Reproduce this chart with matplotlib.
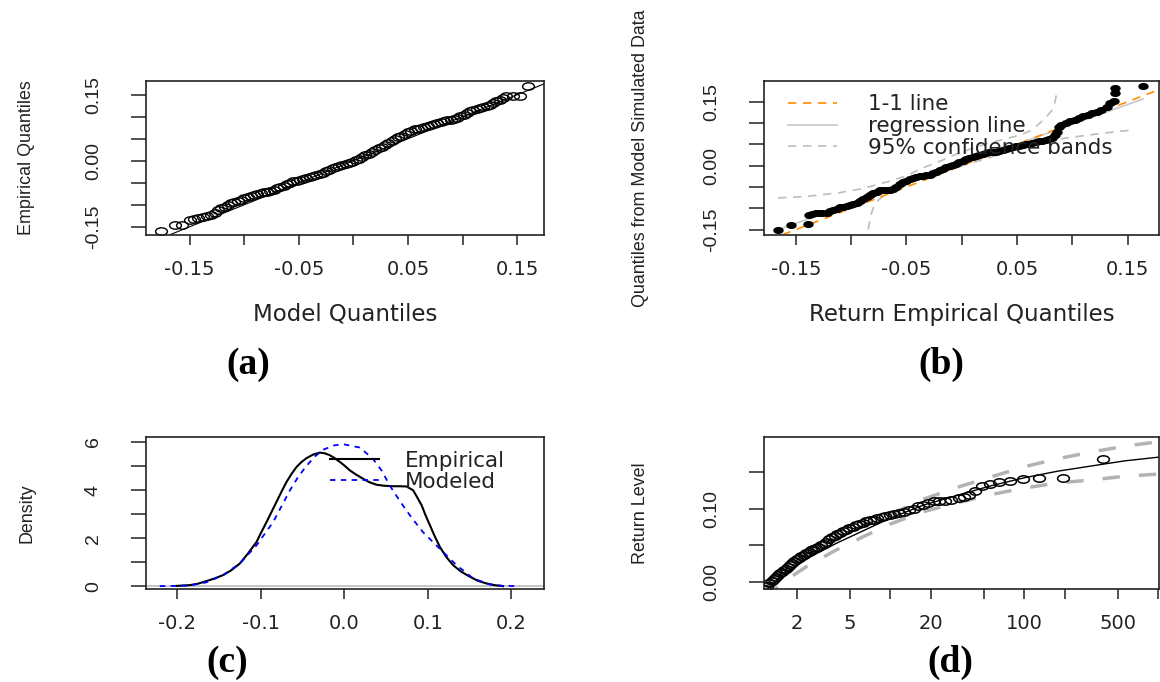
import matplotlib
matplotlib.use("Agg")
import matplotlib.pyplot as plt
import numpy as np
from matplotlib.path import Path
from matplotlib.transforms import Affine2D

# ---------------- data ----------------
# (a) QQ plot: model quantiles vs empirical quantiles
a_model = [-0.176, -0.163, -0.157, -0.150, -0.146, -0.142, -0.138, -0.134, -0.130, -0.127,
           -0.124, -0.121, -0.118, -0.115, -0.112, -0.109, -0.106, -0.103, -0.100, -0.097,
           -0.094, -0.091, -0.088, -0.085, -0.082, -0.079, -0.076, -0.073, -0.070, -0.067,
           -0.064, -0.061, -0.058, -0.055, -0.052, -0.049, -0.046, -0.043, -0.040, -0.037,
           -0.034, -0.031, -0.028, -0.025, -0.022, -0.019, -0.016, -0.013, -0.010, -0.007,
           -0.004, -0.001, 0.002, 0.005, 0.008, 0.011, 0.014, 0.017, 0.020, 0.023,
           0.026, 0.029, 0.032, 0.035, 0.038, 0.041, 0.044, 0.047, 0.050, 0.053,
           0.056, 0.059, 0.062, 0.065, 0.068, 0.071, 0.074, 0.077, 0.080, 0.083,
           0.086, 0.089, 0.092, 0.095, 0.098, 0.101, 0.104, 0.107, 0.110, 0.113,
           0.116, 0.119, 0.122, 0.125, 0.128, 0.131, 0.134, 0.137, 0.140, 0.146,
           0.153, 0.160]
a_empirical = [-0.159, -0.146, -0.145, -0.135, -0.133, -0.130, -0.128, -0.126, -0.123, -0.118,
               -0.112, -0.107, -0.104, -0.100, -0.097, -0.094, -0.092, -0.089, -0.085, -0.082,
               -0.080, -0.078, -0.076, -0.074, -0.072, -0.070, -0.068, -0.066, -0.063, -0.060,
               -0.057, -0.053, -0.050, -0.047, -0.045, -0.043, -0.041, -0.039, -0.037, -0.035,
               -0.033, -0.030, -0.027, -0.024, -0.020, -0.017, -0.015, -0.012, -0.010, -0.007,
               -0.005, -0.002, 0.001, 0.005, 0.009, 0.012, 0.016, 0.020, 0.024, 0.028,
               0.032, 0.036, 0.041, 0.045, 0.049, 0.053, 0.057, 0.061, 0.065, 0.068,
               0.071, 0.073, 0.075, 0.077, 0.080, 0.082, 0.084, 0.086, 0.088, 0.090,
               0.092, 0.093, 0.095, 0.097, 0.101, 0.105, 0.109, 0.112, 0.115, 0.117,
               0.119, 0.122, 0.125, 0.127, 0.131, 0.136, 0.139, 0.142, 0.146, 0.146,
               0.146, 0.169]
a_line_intercept = 0.0
a_line_slope = 1.0

# (b) QQ plot: return empirical quantiles vs model simulated quantiles
b_empirical = [-0.166, -0.154, -0.139, -0.138, -0.135, -0.132, -0.129, -0.126, -0.122, -0.119,
               -0.116, -0.113, -0.110, -0.107, -0.104, -0.101, -0.098, -0.095, -0.092, -0.089,
               -0.086, -0.083, -0.080, -0.077, -0.074, -0.071, -0.068, -0.065, -0.062, -0.059,
               -0.056, -0.053, -0.050, -0.047, -0.044, -0.041, -0.038, -0.035, -0.032, -0.029,
               -0.026, -0.023, -0.020, -0.017, -0.014, -0.011, -0.008, -0.005, -0.002, 0.001,
               0.004, 0.007, 0.010, 0.013, 0.016, 0.019, 0.022, 0.025, 0.028, 0.031,
               0.034, 0.037, 0.040, 0.043, 0.046, 0.049, 0.052, 0.055, 0.058, 0.061,
               0.064, 0.067, 0.070, 0.073, 0.076, 0.079, 0.082, 0.084, 0.086, 0.088,
               0.090, 0.094, 0.098, 0.102, 0.106, 0.110, 0.114, 0.118, 0.122, 0.126,
               0.131, 0.134, 0.138, 0.139, 0.139, 0.164]
b_simulated = [-0.150, -0.1385, -0.136, -0.116, -0.114, -0.112, -0.111, -0.111, -0.111, -0.107,
               -0.104, -0.101, -0.098, -0.096, -0.094, -0.092, -0.090, -0.087, -0.082, -0.078,
               -0.074, -0.069, -0.064, -0.061, -0.058, -0.057, -0.056, -0.056, -0.054, -0.049,
               -0.042, -0.038, -0.035, -0.032, -0.029, -0.027, -0.025, -0.024, -0.022, -0.021,
               -0.018, -0.014, -0.010, -0.007, -0.004, -0.001, 0.002, 0.004, 0.008, 0.011,
               0.015, 0.018, 0.021, 0.023, 0.025, 0.027, 0.029, 0.031, 0.032, 0.033,
               0.035, 0.037, 0.039, 0.041, 0.043, 0.045, 0.047, 0.049, 0.050, 0.052,
               0.054, 0.056, 0.057, 0.059, 0.061, 0.063, 0.066, 0.072, 0.080, 0.090,
               0.096, 0.100, 0.104, 0.108, 0.112, 0.116, 0.120, 0.124, 0.127, 0.130,
               0.138, 0.147, 0.151, 0.171, 0.182, 0.186]
b_reg_intercept = 0.004
b_reg_slope = 0.93
b_upper_x = [-0.166, -0.140, -0.112, -0.090, -0.066, -0.050, -0.036, -0.020, -0.006, 0.009,
             0.024, 0.040, 0.054, 0.062, 0.069, 0.075, 0.081, 0.084, 0.0859]
b_upper_y = [-0.0758, -0.072, -0.064, -0.054, -0.037, -0.024, -0.006, 0.010, 0.026, 0.040,
             0.053, 0.063, 0.073, 0.082, 0.096, 0.110, 0.128, 0.145, 0.171]
b_lower_x = [-0.0845, -0.082, -0.080, -0.075, -0.0693, -0.060, -0.0513, -0.036, -0.0212, -0.006,
             0.009, 0.024, 0.039, 0.054, 0.069, 0.084, 0.0995, 0.115, 0.1296, 0.1567]
b_lower_y = [-0.150, -0.115, -0.099, -0.080, -0.068, -0.055, -0.0446, -0.030, -0.017, -0.005,
             0.0063, 0.018, 0.0298, 0.041, 0.053, 0.061, 0.0667, 0.072, 0.0768, 0.0845]

# (c) densities
c_emp_x = [-0.2005, -0.1846, -0.175, -0.1646, -0.155, -0.1447, -0.135, -0.1248, -0.115, -0.1048,
           -0.099, -0.0928, -0.087, -0.0809, -0.075, -0.0689, -0.063, -0.057, -0.051, -0.045,
           -0.037, -0.029, -0.023, -0.0171, -0.011, -0.0051, 0.0, 0.0068, 0.014, 0.0227,
           0.030, 0.0388, 0.048, 0.0586, 0.066, 0.0746, 0.0825, 0.087, 0.0926, 0.097,
           0.1025, 0.108, 0.1145, 0.122, 0.1304, 0.140, 0.1504, 0.160, 0.1703, 0.180, 0.190]
c_emp_y = [0.01, 0.04, 0.10, 0.21, 0.32, 0.46, 0.66, 0.94, 1.36, 1.84,
           2.25, 2.67, 3.08, 3.51, 3.93, 4.34, 4.67, 4.96, 5.17, 5.33,
           5.48, 5.56, 5.53, 5.45, 5.32, 5.17, 5.03, 4.82, 4.65, 4.47,
           4.33, 4.22, 4.18, 4.16, 4.16, 4.15, 3.99, 3.72, 3.37, 2.98,
           2.54, 2.10, 1.63, 1.22, 0.87, 0.60, 0.39, 0.22, 0.11, 0.04, 0.0]
c_mod_x = [-0.2205, -0.200, -0.1846, -0.1646, -0.1447, -0.1248, -0.1048, -0.0849, -0.065, -0.055,
           -0.045, -0.035, -0.0251, -0.012, -0.0012, 0.0188, 0.0347, 0.045, 0.0547, 0.0646,
           0.0746, 0.0845, 0.0945, 0.1145, 0.1344, 0.1543, 0.1743, 0.190, 0.210]
c_mod_y = [0.0, 0.01, 0.03, 0.16, 0.46, 0.94, 1.70, 2.67, 3.98, 4.55,
           5.01, 5.40, 5.68, 5.86, 5.91, 5.77, 5.29, 4.80, 4.18, 3.65,
           3.14, 2.68, 2.24, 1.55, 0.87, 0.32, 0.07, 0.01, 0.0]

# (d) return level plot
d_period = [1.16, 1.20, 1.25, 1.30, 1.35, 1.40, 1.45, 1.50, 1.55, 1.60,
            1.66, 1.72, 1.78, 1.85, 1.92, 2.00, 2.08, 2.16, 2.25, 2.35,
            2.45, 2.55, 2.66, 2.78, 2.90, 3.03, 3.17, 3.32, 3.48, 3.65,
            3.83, 4.02, 4.22, 4.44, 4.68, 4.94, 5.22, 5.52, 5.85, 6.20,
            6.60, 7.00, 7.50, 8.00, 8.60, 9.20, 9.90, 10.7, 11.6, 12.6,
            13.7, 14.9, 16.2, 17.6, 19.2, 21.1, 23.2, 25.6, 28.5, 32.3,
            35.3, 38.8, 43.1, 48.5, 55.4, 64.7, 77.6, 97.0, 129.3, 194.0,
            388.0]
d_level = [-0.009, -0.006, -0.002, 0.002, 0.004, 0.007, 0.010, 0.012, 0.014, 0.016,
           0.018, 0.021, 0.023, 0.026, 0.028, 0.031, 0.033, 0.035, 0.037, 0.039,
           0.041, 0.043, 0.045, 0.047, 0.048, 0.050, 0.052, 0.055, 0.058, 0.061,
           0.063, 0.065, 0.067, 0.069, 0.071, 0.073, 0.075, 0.077, 0.079, 0.081,
           0.083, 0.084, 0.085, 0.087, 0.088, 0.090, 0.091, 0.092, 0.094, 0.096,
           0.098, 0.100, 0.103, 0.105, 0.108, 0.110, 0.111, 0.111, 0.112, 0.114,
           0.116, 0.119, 0.124, 0.131, 0.134, 0.136, 0.137, 0.140, 0.1415, 0.142,
           0.168]
d_fit_period = [1.15, 1.58, 2.51, 3.98, 6.31, 10.0, 17.8, 31.6, 56.2, 100, 178, 316, 562, 1000]
d_fit_level = [-0.013, 0.010, 0.034, 0.053, 0.070, 0.087, 0.105, 0.118, 0.131, 0.142,
               0.151, 0.158, 0.165, 0.170]
d_upper = [-0.006, 0.017, 0.041, 0.061, 0.077, 0.092, 0.113, 0.129, 0.143, 0.157,
           0.168, 0.177, 0.185, 0.191]
d_lower = [-0.022, 0.000, 0.024, 0.044, 0.062, 0.079, 0.096, 0.108, 0.119, 0.128,
           0.135, 0.139, 0.144, 0.147]

# ---------------- figure ----------------
plt.rcParams['font.family'] = ['DejaVu Sans']
W, H = 1160, 682
fig = plt.figure(figsize=(W / 100, H / 100), dpi=100)
INK = '#222222'

# R's round symbols look squashed: the original picture was stretched sideways
oval = Path.unit_circle().transformed(Affine2D().scale(1.6, 1.0))


def panel(left, top, right, bottom):
    ax = fig.add_axes([left / W, 1 - bottom / H, (right - left) / W, (bottom - top) / H])
    for s in ax.spines.values():
        s.set_linewidth(1.2)
        s.set_color(INK)
    ax.tick_params(axis='x', direction='out', length=7.2, width=1.1, pad=11,
                   labelsize=14, colors=INK)
    ax.tick_params(axis='y', direction='out', length=10.8, width=1.1, pad=21,
                   labelsize=14, colors=INK, labelrotation=90)
    return ax


def set_ticks(ax, xt, xl, yt, yl):
    ax.set_xticks(xt, xl, fontfamily='DejaVu Sans')
    ax.set_yticks(yt, yl, fontfamily='Liberation Sans', va='center')


def ylabel(ax, text, xpos):
    ax.set_ylabel(text, fontfamily='Liberation Sans', fontsize=12.9, color=INK)
    ax.yaxis.label.set_va('center')
    ax.yaxis.set_label_coords(xpos, 0.5)


def xlabel(ax, text):
    ax.set_xlabel(text, fontsize=16.5, color=INK)
    ax.xaxis.label.set_va('center')
    ax.xaxis.set_label_coords(0.5, -0.52)


# (a)
ax = panel(146, 81.3, 544, 234.7)
ax.plot(a_model, a_empirical, linestyle='none', marker=oval, markersize=8.5,
        markerfacecolor='none', markeredgecolor='black', markeredgewidth=1.0)
ax.axline((0, a_line_intercept), slope=a_line_slope, color='black', lw=0.8)
ax.set_xlim(-0.190, 0.1746)
ax.set_ylim(-0.168, 0.1805)
set_ticks(ax, [-0.15, -0.10, -0.05, 0.0, 0.05, 0.10, 0.15],
          ['-0.15', '', '-0.05', '', '0.05', '', '0.15'],
          [-0.15, -0.10, -0.05, 0.0, 0.05, 0.10, 0.15],
          ['-0.15', '', '', '0.00', '', '', '0.15'])
xlabel(ax, 'Model Quantiles')
ylabel(ax, 'Empirical Quantiles', -0.30)

# (b)
ax = panel(764.3, 81.3, 1159, 234.7)
ax.plot(b_upper_x, b_upper_y, color='#bdbdbd', lw=1.2, linestyle=(0, (5, 4)),
        label='95% confidence bands')
ax.plot(b_lower_x, b_lower_y, color='#bdbdbd', lw=1.2, linestyle=(0, (5, 4)))
xr = np.array([min(b_empirical), max(b_empirical)])
ax.plot(xr, b_reg_intercept + b_reg_slope * xr, color='#c8c8c8', lw=1.2,
        label='regression line')
ax.axline((0, 0), slope=1, color='#ff8c00', lw=1.2, linestyle=(0, (5, 4)),
          label='1-1 line')
ax.plot(b_empirical, b_simulated, linestyle='none', marker=oval, markersize=6.5,
        color='black')
ax.set_xlim(-0.1785, 0.1784)
ax.set_ylim(-0.162, 0.198)
set_ticks(ax, [-0.15, -0.10, -0.05, 0.0, 0.05, 0.10, 0.15],
          ['-0.15', '', '-0.05', '', '0.05', '', '0.15'],
          [-0.15, -0.10, -0.05, 0.0, 0.05, 0.10, 0.15],
          ['-0.15', '', '', '0.00', '', '', '0.15'])
xlabel(ax, 'Return Empirical Quantiles')
ylabel(ax, 'Quantiles from Model Simulated Data', -0.313)
hs, ls = ax.get_legend_handles_labels()
order = [2, 1, 0]
leg = ax.legend([hs[i] for i in order], [ls[i] for i in order], loc='upper left',
                bbox_to_anchor=(0.06, 0.915), frameon=False, fontsize=15.5,
                handlelength=2.3, handletextpad=1.4, labelspacing=0.08,
                borderpad=0, borderaxespad=0, labelcolor=INK)
leg.set_zorder(5)

# (c)
ax = panel(146, 437, 544, 589)
ax.axhline(0, color='#bbbbbb', lw=1.2)
ax.plot(c_emp_x, c_emp_y, color='black', lw=1.5, label='Empirical')
ax.plot(c_mod_x, c_mod_y, color='#0000ff', lw=1.3, linestyle=(0, (3, 3)),
        label='Modeled')
ax.set_xlim(-0.237, 0.239)
ax.set_ylim(-0.12, 6.21)
set_ticks(ax, [-0.2, -0.1, 0.0, 0.1, 0.2],
          ['-0.2', '-0.1', '0.0', '0.1', '0.2'],
          [0, 1, 2, 3, 4, 5, 6], ['0', '', '2', '', '4', '', '6'])
ylabel(ax, 'Density', -0.30)
ax.legend(loc='upper left', bbox_to_anchor=(0.462, 0.91), frameon=False,
          fontsize=15.5, handlelength=2.3, handletextpad=1.2, labelspacing=0.05,
          borderpad=0, borderaxespad=0, labelcolor=INK)

# (d)
ax = panel(764.3, 437, 1159, 588.7)
ax.set_xscale('log')
ax.plot(d_fit_period, d_upper, color='#b3b3b3', lw=2.5, linestyle=(0, (5, 5.5)))
ax.plot(d_fit_period, d_lower, color='#b3b3b3', lw=2.5, linestyle=(0, (5, 5.5)))
ax.plot(d_fit_period, d_fit_level, color='black', lw=1.0)
ax.plot(d_period, d_level, linestyle='none', marker=oval, markersize=8.5,
        markerfacecolor='none', markeredgecolor='black', markeredgewidth=1.1)
ax.set_xlim(1.146, 1012)
ax.set_ylim(-0.0091, 0.1975)
ax.minorticks_off()
set_ticks(ax, [2, 5, 10, 20, 50, 100, 200, 500, 1000],
          ['2', '5', '', '20', '', '100', '', '500', ''],
          [0.0, 0.05, 0.10, 0.15], ['0.00', '', '0.10', ''])
ylabel(ax, 'Return Level', -0.313)

# captions
for text, x, y in [('(a)', 248, 364), ('(b)', 941, 364), ('(c)', 227, 662), ('(d)', 950, 662)]:
    fig.text(x / W, 1 - y / H, text, fontfamily='Liberation Serif', fontweight='bold',
             fontsize=27, ha='center', va='center', color='black')

fig.savefig('out.png', dpi=100)
